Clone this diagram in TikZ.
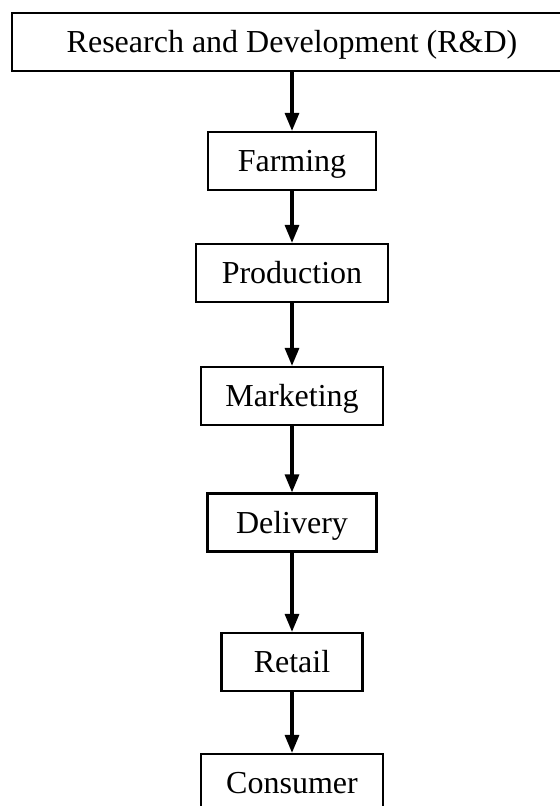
\documentclass[tikz,border=0pt]{standalone}
\usepackage{fontspec}
\setmainfont{Liberation Serif}
\usetikzlibrary{arrows.meta, positioning}

\begin{document}
\begin{tikzpicture} [x=0.5pt, y=-0.5pt, on grid,
  stage/.style = {draw, line width=1.1pt, minimum height=29pt, inner sep=0pt,
    text height=10.6pt, text depth=0pt, font=\fontsize{16}{19}\selectfont}]

\useasboundingbox (0,0) rectangle (560,806);
\clip (0,0) rectangle (560,806);

\node (rd) [stage, minimum width=280pt] at (292,42) {Research and Development (R\&D)};
\node (farm) [stage, minimum width=84pt, below = 59.5pt of rd] {Farming};
\node (prod) [stage, minimum width=96pt, below = 56pt of farm] {Production};
\node (mark) [stage, minimum width=91pt, below = 61.5pt of prod] {Marketing};
\node (deliv) [stage, minimum width=84.5pt, below = 63.25pt of mark] {Delivery};
\node (retail) [stage, minimum width=70.5pt, below = 69.75pt of deliv] {Retail};
\node (cons) [stage, minimum width=91pt, below = 60.5pt of retail] {Consumer};

\path [-{Triangle[length=9pt, width=7pt]}, line width=1.6pt]
	(rd) edge (farm)
	(farm) edge (prod)
	(prod) edge (mark)
	(mark) edge (deliv)
	(deliv) edge (retail)
	(retail) edge (cons);
\end{tikzpicture}
\end{document}
